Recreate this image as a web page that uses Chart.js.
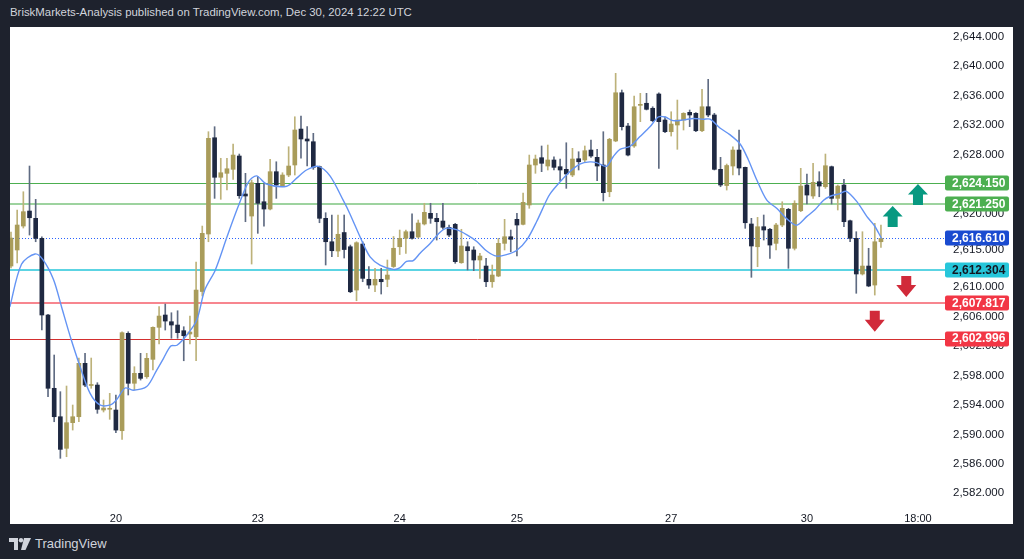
<!DOCTYPE html>
<html lang="en">
<head>
<meta charset="UTF-8">
<title>XAUUSD 1H — BriskMarkets-Analysis</title>
<script src="https://cdn.jsdelivr.net/npm/chart.js@4.4.7/dist/chart.umd.min.js"></script>
<style>
*{box-sizing:border-box;margin:0;padding:0}
html,body{width:1024px;height:559px;overflow:hidden}
body{background:#1e222d;font-family:'Liberation Sans',Arial,sans-serif;position:relative}
.header{position:absolute;left:10px;top:6px;font-size:11.4px;color:#d1d4dc;white-space:nowrap}
.panel{position:absolute;left:10px;top:27px;width:1003px;height:497px;background:#fff}
.footer{position:absolute;left:9px;top:536px;display:flex;align-items:center;gap:4px;color:#d1d4dc;font-size:13px}
</style>
</head>
<body>
<div class="header">BriskMarkets-Analysis published on TradingView.com, Dec 30, 2024 12:22 UTC</div>
<div class="panel"><canvas id="chart"></canvas></div>
<div class="footer">
  <svg width="22" height="12" viewBox="0 0 22 12"><path d="M0 0h9v12H5V4H0z" fill="#d1d4dc"/><circle cx="12" cy="2.2" r="2.2" fill="#d1d4dc"/><path d="M15 0h7l-5.5 12H12z" fill="#d1d4dc"/></svg>
  <span>TradingView</span>
</div>
<script>
// hourly candles (index 0 = left edge)
const opens = [2612.86,2615.04,2618.29,2620.33,2619.34,2616.62,2606.21,2596.26,2592.40,2588.11,
  2591.59,2592.40,2599.65,2596.64,2596.70,2593.31,2593.41,2593.31,2590.50,2603.72,
  2596.94,2598.29,2597.83,2600.19,2604.54,2606.21,2605.30,2604.85,2604.08,2603.63,
  2603.26,2609.40,2617.21,2630.28,2624.91,2625.45,2625.99,2627.80,2622.64,2619.65,
  2624.09,2621.59,2620.60,2625.67,2623.72,2625.22,2626.58,2631.46,2630.11,2629.74,
  2626.35,2619.34,2616.16,2614.90,2617.41,2615.48,2609.60,2615.85,2611.06,2610.28,
  2611.06,2611.06,2612.79,2615.48,2616.62,2617.52,2616.80,2618.57,2620.02,2619.34,
  2618.97,2618.12,2618.52,2613.31,2615.48,2615.04,2613.68,2612.86,2610.73,2611.50,
  2615.94,2616.84,2619.20,2618.52,2621.15,2626.58,2627.57,2626.44,2627.26,2626.35,
  2625.99,2625.22,2627.43,2627.26,2628.61,2627.62,2626.58,2622.95,2629.84,2636.39,
  2631.87,2629.16,2634.68,2634.96,2634.28,2636.22,2632.69,2631.10,2632.01,2632.69,
  2633.73,2633.60,2631.23,2634.49,2633.37,2625.99,2623.79,2626.44,2628.61,2626.26,
  2618.57,2615.48,2618.20,2617.85,2615.94,2618.43,2620.56,2615.27,2620.37,2623.86,
  2622.37,2624.31,2623.63,2626.35,2622.05,2623.86,2619.01,2616.62,2611.78,2612.86,
  2610.28,2616.16];
const highs = [2617.48,2620.47,2622.95,2626.44,2621.92,2616.84,2606.30,2600.78,2595.80,2596.57,
  2593.99,2600.37,2601.01,2600.37,2597.02,2594.67,2595.58,2595.35,2603.94,2603.94,
  2599.19,2601.01,2601.01,2604.62,2607.34,2607.70,2606.52,2606.79,2604.62,2606.07,
  2613.41,2618.29,2631.10,2631.78,2627.49,2627.49,2629.43,2628.07,2625.45,2624.54,
  2624.99,2624.09,2627.35,2627.02,2625.53,2629.06,2633.13,2633.23,2631.78,2630.88,
  2626.44,2620.10,2619.79,2619.79,2619.79,2615.71,2616.16,2616.16,2612.77,2612.55,
  2612.55,2613.68,2616.87,2617.75,2617.75,2619.96,2619.11,2621.38,2621.38,2620.02,
  2621.38,2618.43,2618.66,2617.85,2616.16,2615.48,2614.59,2613.91,2613.00,2616.62,
  2619.20,2617.75,2620.02,2622.77,2627.93,2627.93,2629.16,2629.29,2627.70,2627.39,
  2629.60,2628.84,2628.38,2629.16,2629.97,2628.71,2631.10,2630.20,2639.03,2636.76,
  2632.24,2635.95,2636.31,2636.31,2634.49,2636.39,2633.13,2633.81,2635.40,2633.68,
  2634.05,2633.68,2636.85,2638.21,2633.60,2627.62,2626.71,2629.06,2631.33,2626.30,
  2619.34,2619.47,2619.79,2617.98,2618.66,2621.59,2620.70,2621.73,2626.13,2625.36,
  2626.81,2625.67,2628.07,2626.44,2623.86,2624.63,2619.11,2617.52,2617.52,2615.27,
  2618.66,2618.43];
const lows = [2612.59,2613.27,2618.02,2617.07,2616.16,2604.17,2595.12,2591.72,2586.75,2586.97,
  2590.59,2591.72,2596.47,2596.26,2592.86,2593.04,2592.05,2590.23,2589.33,2595.35,
  2596.03,2597.38,2597.61,2598.74,2602.27,2604.17,2603.05,2603.05,2600.00,2602.27,
  2600.00,2608.79,2616.16,2622.05,2621.92,2623.18,2624.63,2622.05,2618.88,2613.13,
  2617.30,2618.29,2620.47,2622.05,2623.63,2624.99,2625.22,2627.49,2626.44,2625.99,
  2618.74,2613.00,2614.13,2614.13,2613.95,2609.24,2608.15,2610.73,2609.83,2609.37,
  2609.06,2610.05,2612.66,2614.42,2614.59,2616.50,2616.66,2618.43,2618.66,2616.39,
  2617.85,2616.84,2613.23,2613.23,2612.32,2612.23,2611.19,2610.05,2609.97,2611.41,
  2615.04,2614.80,2614.22,2618.43,2620.70,2625.45,2625.67,2625.90,2625.90,2624.44,
  2623.41,2624.99,2625.90,2627.02,2627.62,2624.44,2621.69,2622.27,2629.74,2631.33,
  2627.80,2628.98,2632.46,2634.05,2632.46,2626.13,2630.96,2630.51,2628.71,2631.33,
  2631.78,2631.10,2631.10,2633.13,2625.90,2623.63,2623.18,2625.22,2625.22,2617.98,
  2611.33,2612.77,2616.39,2613.91,2615.04,2618.20,2612.55,2615.04,2620.24,2621.28,
  2622.05,2622.27,2623.41,2621.28,2620.47,2618.20,2616.16,2609.16,2611.64,2610.05,
  2608.92,2615.40];
const closes = [2616.66,2618.43,2620.24,2619.42,2616.62,2606.21,2596.26,2592.40,2587.97,2591.59,
  2592.40,2599.65,2596.70,2596.77,2593.41,2593.58,2593.49,2590.59,2603.81,2596.94,
  2598.29,2597.61,2600.33,2604.54,2606.07,2605.39,2604.85,2603.81,2603.40,2603.90,
  2609.60,2617.30,2630.20,2624.91,2625.53,2626.07,2627.93,2622.41,2622.37,2624.17,
  2621.38,2620.60,2625.67,2623.86,2625.22,2626.44,2631.33,2630.11,2629.84,2626.26,
  2619.34,2616.16,2614.94,2617.17,2615.10,2609.37,2616.03,2611.19,2610.28,2611.06,
  2610.73,2611.64,2615.27,2616.62,2617.52,2616.62,2618.70,2620.15,2619.34,2618.88,
  2618.12,2617.07,2613.45,2615.58,2614.94,2613.68,2614.22,2610.73,2611.64,2615.94,
  2616.84,2616.49,2618.43,2621.51,2626.58,2627.39,2626.81,2627.26,2626.26,2625.90,
  2625.36,2627.39,2627.02,2628.52,2627.80,2626.44,2622.82,2630.07,2636.39,2631.78,
  2627.93,2634.49,2634.82,2634.14,2632.59,2632.46,2631.10,2632.14,2632.69,2633.60,
  2633.37,2631.23,2634.49,2633.37,2625.99,2623.86,2626.51,2628.61,2626.17,2618.74,
  2615.58,2618.20,2617.75,2615.71,2618.43,2620.70,2615.27,2621.38,2623.72,2622.50,
  2624.23,2623.72,2626.48,2622.05,2623.72,2618.88,2616.62,2611.78,2612.86,2610.15,
  2616.16,2616.61];

// moving average, sampled along the drawn line (candle index, price)
const maIdx = [-0.2,1.7,3.9,5.2,6.9,8.2,9.6,11.2,12.8,14.4,16.1,17.1,18.5,19.8,22.0,23.6,24.7,25.9,26.9,28.5,
  30.1,31.4,33.1,35.0,36.8,38.5,39.8,41.4,44.7,46.3,47.9,49.8,51.7,53.9,54.9,56.8,58.2,59.8,62.0,63.0,
  64.1,65.2,66.3,67.9,69.5,70.6,72.2,73.9,75.5,77.1,78.7,80.3,82.0,83.6,85.2,86.8,87.4,89.0,90.6,92.2,
  93.8,94.9,96.5,97.6,98.7,100.3,101.9,103.6,104.9,106.0,107.3,109.0,110.6,112.2,113.3,114.9,116.5,118.2,119.5,120.9,
  122.5,124.1,125.7,127.3,129.0,130.3,131.7,132.7,134.3,135.4,137.1,138.7,139.9,141.1];
const maVals = [2607.3,2613.1,2614.5,2613.7,2611.0,2607.3,2603.3,2599.2,2595.6,2594.0,2594.0,2594.7,2596.3,2596.0,2596.5,2598.7,2600.3,2602.0,2602.1,2603.5,
  2605.5,2609.6,2612.3,2616.8,2620.9,2624.3,2625.1,2624.0,2623.7,2624.8,2625.9,2626.4,2625.1,2621.7,2620.0,2616.4,2614.1,2613.0,2612.4,2612.6,
  2613.5,2613.6,2614.6,2615.9,2617.4,2618.0,2617.8,2617.1,2616.2,2614.9,2614.2,2614.4,2615.0,2616.4,2618.9,2621.8,2622.7,2624.3,2625.7,2626.7,
  2627.0,2626.9,2626.4,2627.7,2628.7,2629.1,2630.4,2631.8,2633.1,2633.1,2632.6,2632.7,2632.9,2632.8,2632.8,2631.6,2630.7,2629.4,2627.3,2624.5,
  2621.8,2620.7,2619.3,2618.4,2619.6,2620.5,2621.8,2622.3,2622.7,2623.0,2621.6,2619.6,2618.4,2616.6];

// horizontal levels with their axis labels
const levelValues = [2624.150, 2621.250, 2616.610, 2612.304, 2607.817, 2602.996];
const levelLabels = ['2,624.150', '2,621.250', '2,616.610', '2,612.304', '2,607.817', '2,602.996'];

// arrow markers (candle index, price, direction)
const arrowIdx = [142.9, 147.0, 145.1, 140.0];
const arrowPrice = [2619.58, 2622.57, 2610.08, 2605.35];
const arrowDir = ['up', 'up', 'down', 'down'];

// axis ticks
const priceTicks = [2644,2640,2636,2632,2628,2624,2620,2615,2610,2606,2602,2598,2594,2590,2586,2582];
const timeTickIdx = [17, 40, 63, 82, 107, 129, 147];
const timeTickLabels = ['20', '23', '24', '25', '27', '30', '18:00'];

const GOLD = '#a99c5a', NAVY = '#1f2942';
const GOLD_WICK = '#bdb27a', NAVY_WICK = '#5f6b82';
const levelStyle = [
  {line: '#4caf50', width: 1, dash: [], box: '#4caf50', text: '#fff'},
  {line: 'rgba(76,175,80,0.55)', width: 2, dash: [], box: '#4caf50', text: '#fff'},
  {line: '#2962ff', width: 1, dash: [1, 2], box: '#1a4bd0', text: '#fff'},
  {line: '#26c6da', width: 1.5, dash: [], box: '#26c6da', text: '#131722'},
  {line: 'rgba(242,54,69,0.6)', width: 2, dash: [], box: '#f23645', text: '#fff'},
  {line: '#d32f2f', width: 1, dash: [], box: '#f23645', text: '#fff'},
];

const isUp = i => closes[i] >= opens[i];

const levelsPlugin = {
  id: 'levels',
  beforeDatasetsDraw(chart) {
    const {ctx, chartArea: a, scales: {y}} = chart;
    ctx.save();
    levelValues.forEach((v, k) => {
      const s = levelStyle[k];
      const py = Math.round(y.getPixelForValue(v)) + (s.width === 1 ? 0.5 : 0);
      ctx.strokeStyle = s.line;
      ctx.lineWidth = s.width;
      ctx.setLineDash(s.dash);
      ctx.beginPath();
      ctx.moveTo(a.left, py);
      ctx.lineTo(a.right + 5, py);
      ctx.stroke();
    });
    ctx.restore();
  },
  afterDraw(chart) {
    const {ctx, chartArea: a, scales: {x, y}} = chart;
    ctx.save();
    // price labels on the axis
    ctx.font = 'bold 12px "Liberation Sans", Arial, sans-serif';
    ctx.textBaseline = 'middle';
    ctx.textAlign = 'left';
    levelValues.forEach((v, k) => {
      const s = levelStyle[k];
      const py = y.getPixelForValue(v);
      ctx.fillStyle = s.box;
      ctx.beginPath();
      ctx.roundRect(a.right + 5, Math.round(py) - 7.5, 64, 15, 2);
      ctx.fill();
      ctx.fillStyle = s.text;
      ctx.fillText(levelLabels[k], a.right + 12, py + 0.5);
    });
    // arrows
    arrowIdx.forEach((idx, k) => {
      const cx = x.getPixelForValue(idx), cy = y.getPixelForValue(arrowPrice[k]);
      const up = arrowDir[k] === 'up';
      ctx.fillStyle = up ? '#089981' : '#d12a3a';
      ctx.beginPath();
      if (up) {
        ctx.moveTo(cx, cy - 10.5);
        ctx.lineTo(cx + 10, cy);
        ctx.lineTo(cx + 5, cy);
        ctx.lineTo(cx + 5, cy + 10.5);
        ctx.lineTo(cx - 5, cy + 10.5);
        ctx.lineTo(cx - 5, cy);
        ctx.lineTo(cx - 10, cy);
      } else {
        ctx.moveTo(cx - 5, cy - 10.5);
        ctx.lineTo(cx + 5, cy - 10.5);
        ctx.lineTo(cx + 5, cy - 1.5);
        ctx.lineTo(cx + 10, cy - 1.5);
        ctx.lineTo(cx, cy + 10.5);
        ctx.lineTo(cx - 10, cy - 1.5);
        ctx.lineTo(cx - 5, cy - 1.5);
      }
      ctx.closePath();
      ctx.fill();
    });
    ctx.restore();
  }
};

new Chart(document.getElementById('chart'), {
  type: 'bar',
  data: {
    datasets: [{
      type: 'line',
      label: 'MA',
      data: maIdx.map((v, i) => ({x: v, y: maVals[i]})),
      borderColor: '#6494f4',
      borderWidth: 1.4,
      pointRadius: 0,
      tension: 0.3,
      order: 0,
    }, {
      label: 'body',
      data: opens.map((o, i) => ({x: i, y: [o, closes[i]]})),
      backgroundColor: opens.map((_, i) => isUp(i) ? GOLD : NAVY),
      barThickness: 4,
      minBarLength: 1,
      grouped: false,
      order: 1,
    }, {
      label: 'wick',
      data: opens.map((_, i) => ({x: i, y: [lows[i], highs[i]]})),
      backgroundColor: opens.map((_, i) => isUp(i) ? GOLD_WICK : NAVY_WICK),
      barThickness: 1,
      grouped: false,
      order: 2,
    }]
  },
  options: {
    responsive: true,
    maintainAspectRatio: false,
    animation: false,
    layout: { padding: 0 },
    plugins: { legend: { display: false }, tooltip: { enabled: false } },
    scales: {
      x: {
        type: 'linear',
        min: -0.162,
        max: 150.57,
        offset: false,
        grid: { display: false },
        border: { display: false },
        afterBuildTicks: s => { s.ticks = timeTickIdx.map(v => ({value: v})); },
        afterFit: s => { s.height = 27; s.paddingLeft = 0; s.paddingRight = 0; },
        ticks: {
          autoSkip: false, maxRotation: 0, padding: 7,
          color: '#131722', font: { size: 11, family: '"Liberation Sans", Arial, sans-serif' },
          callback: v => timeTickLabels[timeTickIdx.indexOf(v)] ?? '',
        },
      },
      y: {
        position: 'right',
        min: 2581.50,
        max: 2645.317,
        grid: { display: false, drawTicks: false },
        border: { display: false },
        afterBuildTicks: s => { s.ticks = priceTicks.map(v => ({value: v})); },
        afterFit: s => { s.width = 73; s.paddingTop = 0; s.paddingBottom = 0; },
        ticks: {
          padding: 13,
          color: '#131722', font: { size: 11.5, family: '"Liberation Sans", Arial, sans-serif' },
          callback: v => v.toLocaleString('en-US', {minimumFractionDigits: 3, maximumFractionDigits: 3}),
        },
      },
    },
  },
  plugins: [levelsPlugin],
});
</script>
</body>
</html>
